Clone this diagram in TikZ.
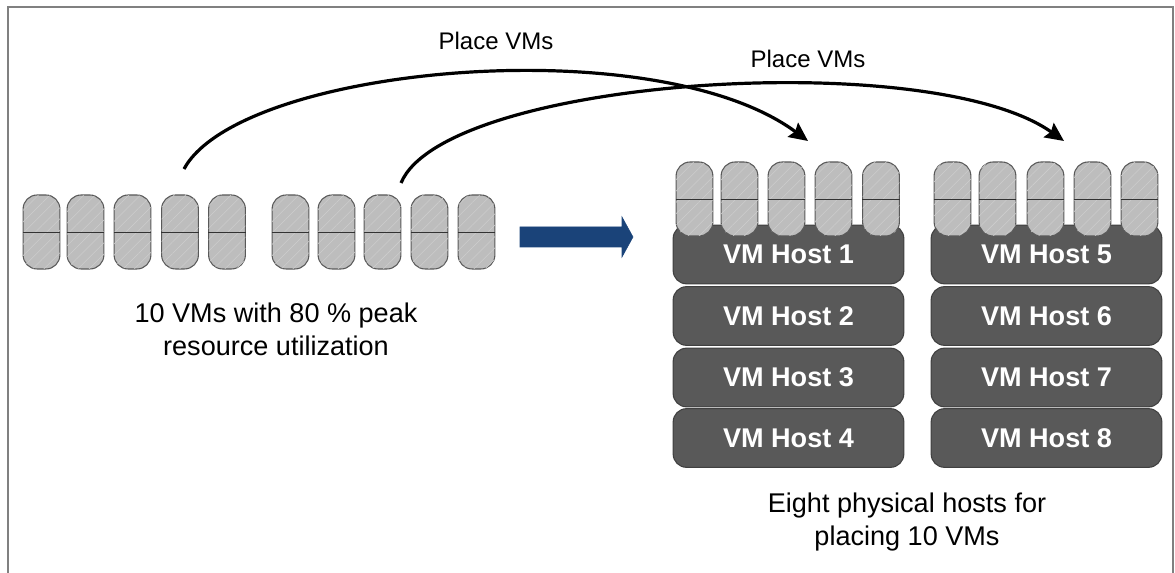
\documentclass[tikz,border=0pt]{standalone}
\usepackage{fontspec}
\setmainfont{Liberation Sans}
\usepackage{tikz}
\usetikzlibrary{arrows.meta}
\usetikzlibrary{patterns.meta}
\usetikzlibrary{shapes}
\definecolor{pillgray}{HTML}{BDBDBD}
\definecolor{hostgray}{HTML}{595959}
\definecolor{arrowblue}{HTML}{1A4379}
\tikzset{
    vmpill/.style={draw=black!65, line width=0.8pt, fill=pillgray, rounded corners=10.5pt,
        minimum width=27.6pt, minimum height=55.5pt, inner sep=0pt,
        postaction={pattern={Lines[angle=45,distance=6pt,line width=0.4pt]}, pattern color=white!25!pillgray}},
    vmhost/.style={draw=black!75, line width=0.8pt, fill=hostgray, rounded corners=10pt,
        minimum width=173pt, minimum height=44pt, inner sep=0pt,
        text=white, font=\fontsize{20.3}{24}\selectfont\bfseries},
    caption/.style={align=center, font=\fontsize{20.3}{25}\selectfont},
    placelabel/.style={font=\fontsize{18}{22}\selectfont},
    placearrow/.style={line width=2.4pt, -{Stealth[length=14pt,width=13pt,inset=2pt]}}
}
\newcommand{\vmpill}[3]{\node[vmpill] (#1) at (#2,#3) {}; \draw[black!80, line width=0.7pt] (#1.west) -- (#1.east);}
\newcommand{\vmhost}[4]{\node[vmhost] (#1) at (#2,#3) {#4};}
\begin{document}
\begin{tikzpicture}[x=0.75pt, y=-0.75pt]
        \useasboundingbox (0,0) rectangle (1175,573);
        % frame, open at the bottom
        \draw[black!50, line width=1.2pt] (8,573) -- (8,7) -- (1173,7) -- (1173,573);
        % source vms, group 1
        \vmpill{a1}{41.5}{232}
        \vmpill{a2}{85.5}{232}
        \vmpill{a3}{132.5}{232}
        \vmpill{a4}{180}{232}
        \vmpill{a5}{227}{232}
        % source vms, group 2
        \vmpill{a6}{290.5}{232}
        \vmpill{a7}{336.5}{232}
        \vmpill{a8}{382.5}{232}
        \vmpill{a9}{429.5}{232}
        \vmpill{a10}{476.5}{232}
        % hosts, column 1
        \vmhost{h1}{788.5}{254.5}{VM Host 1}
        \vmhost{h2}{788.5}{316}{VM Host 2}
        \vmhost{h3}{788.5}{377.5}{VM Host 3}
        \vmhost{h4}{788.5}{438}{VM Host 4}
        % hosts, column 2
        \vmhost{h5}{1046.5}{254.5}{VM Host 5}
        \vmhost{h6}{1046.5}{316}{VM Host 6}
        \vmhost{h7}{1046.5}{377.5}{VM Host 7}
        \vmhost{h8}{1046.5}{438}{VM Host 8}
        % placed vms, host 1
        \vmpill{b1}{694.5}{199}
        \vmpill{b2}{739.5}{199}
        \vmpill{b3}{786.5}{199}
        \vmpill{b4}{833.5}{199}
        \vmpill{b5}{881}{199}
        % placed vms, host 5
        \vmpill{c1}{952.5}{199}
        \vmpill{c2}{997.5}{199}
        \vmpill{c3}{1045.5}{199}
        \vmpill{c4}{1092.5}{199}
        \vmpill{c5}{1139.5}{199}
        % block arrow
        \filldraw[arrowblue, line width=0.4pt] (520,227) -- (622,227) -- (622,217) -- (633,237) -- (622,257) -- (622,247) -- (520,247) -- cycle;
        % place arrows
        \coordinate (s1) at (184,169);
        \coordinate (t1) at (808,141);
        \coordinate (s2) at (401,183);
        \coordinate (t2) at (1064,141);
        \draw[placearrow] (s1) .. controls (240,66) and (655,28) .. (t1);
        \draw[placearrow] (s2) .. controls (445,78) and (930,46) .. (t2);
        % labels
        \node[placelabel] (p1) at (496,41) {Place VMs};
        \node[placelabel] (p2) at (808,59) {Place VMs};
        \node[caption] (cap1) at (276,329) {10 VMs with 80 \% peak\\resource utilization};
        \node[caption] (cap2) at (907,522) {Eight physical hosts for\\placing 10 VMs};
    \end{tikzpicture}
\end{document}
